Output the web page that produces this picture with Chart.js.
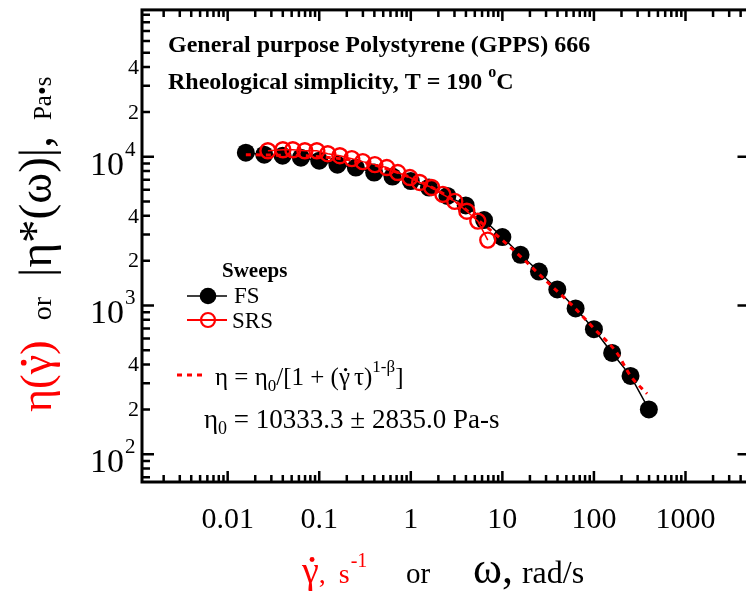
<!DOCTYPE html>
<html>
<head>
<meta charset="utf-8">
<script src="https://cdn.jsdelivr.net/npm/chart.js@4.4.1/dist/chart.umd.min.js"></script>
<style>
  html, body { margin: 0; padding: 0; background: #fff; overflow: hidden; }
  #wrap { width: 746px; height: 595px; overflow: hidden; position: relative; }
  canvas { display: block; }
</style>
</head>
<body>
<div id="wrap"><canvas id="chart" width="760" height="595"></canvas></div>
<script>
// frequency sweep (FS): omega, rad/s and |eta*|, Pa.s
var fsRate = [0.0158, 0.0251, 0.0398, 0.0631, 0.1, 0.158, 0.251, 0.398, 0.631, 1,
              1.58, 2.51, 3.98, 6.31, 10, 15.8, 25.1, 39.8, 63.1, 100, 158, 251, 398];
var fsVisc = [10630, 10310, 10150, 9850, 9400, 8840, 8450, 7820, 7350, 6850,
              6200, 5450, 4700, 3750, 2880, 2190, 1690, 1280, 955, 692, 479, 336, 200];

// steady rate sweep (SRS): shear rate, 1/s and eta, Pa.s
var srsRate = [0.0275, 0.0401, 0.0515, 0.0697, 0.0942, 0.124, 0.168, 0.227, 0.299, 0.405,
               0.547, 0.721, 0.976, 1.25, 1.69, 2.24, 3.02, 4.09, 5.39, 6.93];
var srsVisc = [10960, 11130, 11130, 10960, 10960, 10470, 10150, 9700, 9260, 8840,
               8450, 7820, 7240, 6710, 6210, 5580, 5010, 4300, 3690, 2750];

// fitted curve
var fitRate = [0.0158, 0.0316, 0.1, 0.316, 1, 1.78, 3.16, 5.62, 10, 17.8, 31.6, 56.2, 100, 178, 251, 380];
var fitVisc = [10300, 10250, 10000, 9120, 7240, 6120, 4940, 3690, 2750, 1990, 1420, 1020, 700, 480, 336, 255];

// axis ticks
var xTicks = [0.01, 0.1, 1, 10, 100, 1000];
var xTickLabels = ['0.01', '0.1', '1', '10', '100', '1000'];
var yTicks = [100, 1000, 10000];
var yTickExp = ['2', '3', '4'];
var yMinorLabelTicks = [200, 400, 2000, 4000, 20000, 40000];
var yMinorLabels = ['2', '4', '2', '4', '2', '4'];

var SERIF = "'Liberation Serif', 'Times New Roman', serif";
var RED = '#ff0000';

function pts(xs, ys) {
    return xs.map(function (x, i) { return { x: x, y: ys[i] }; });
}

//draws a row of text pieces, returns the end x
function rich(ctx, x, y, pieces) {
    pieces.forEach(function (p) {
        ctx.font = (p.bold ? 'bold ' : '') + p.size + 'px ' + SERIF;
        ctx.fillStyle = p.color || '#000';
        ctx.textAlign = 'left';
        ctx.textBaseline = 'alphabetic';
        ctx.fillText(p.t, x, y + (p.dy || 0));
        var w = ctx.measureText(p.t).width;
        if (p.dot) {
            ctx.beginPath();
            ctx.arc(x + w * 0.6, y + (p.dy || 0) - p.size * 0.62, p.size * 0.065, 0, Math.PI * 2);
            ctx.fill();
        }
        x += w + (p.gap || 0);
    });
    return x;
}

var decor = {
    id: 'decor',
    afterDraw: function (chart) {
        var ctx = chart.ctx;
        var xs = chart.scales.x, ys = chart.scales.y;
        var a = chart.chartArea;
        ctx.save();

        //frame
        ctx.strokeStyle = '#000';
        ctx.lineWidth = 3;
        ctx.strokeRect(a.left, a.top, a.right - a.left, a.bottom - a.top);

        //minor + major ticks, inward
        ctx.lineWidth = 2.5;
        ctx.beginPath();
        for (var d = -3; d <= 4; d++) {
            for (var k = 1; k <= 9; k++) {
                var v = k * Math.pow(10, d);
                var len = k === 1 ? 11 : 7;
                if (v >= xs.min && v <= xs.max) {
                    var px = xs.getPixelForValue(v);
                    ctx.moveTo(px, a.bottom); ctx.lineTo(px, a.bottom - len);
                    ctx.moveTo(px, a.top); ctx.lineTo(px, a.top + len);
                }
                if (v >= ys.min && v <= ys.max) {
                    var py = ys.getPixelForValue(v);
                    ctx.moveTo(a.left, py); ctx.lineTo(a.left + len + 1, py);
                    if (k === 1) { ctx.moveTo(a.right, py); ctx.lineTo(a.right - 12, py); }
                }
            }
        }
        ctx.stroke();

        //x tick labels
        ctx.fillStyle = '#000';
        ctx.font = '30px ' + SERIF;
        ctx.textAlign = 'center';
        ctx.textBaseline = 'alphabetic';
        xTicks.forEach(function (v, i) {
            ctx.fillText(xTickLabels[i], xs.getPixelForValue(v), 528);
        });

        //y tick labels
        yTicks.forEach(function (v, i) {
            var py = ys.getPixelForValue(v);
            ctx.font = '34px ' + SERIF;
            ctx.textAlign = 'right';
            ctx.fillText('10', 124, py + 18);
            ctx.font = '21px ' + SERIF;
            ctx.textAlign = 'left';
            ctx.fillText(yTickExp[i], 125, py - 1);
        });
        ctx.font = '22px ' + SERIF;
        ctx.textAlign = 'right';
        ctx.textBaseline = 'middle';
        yMinorLabelTicks.forEach(function (v, i) {
            ctx.fillText(yMinorLabels[i], 139, ys.getPixelForValue(v) + 1);
        });

        //titles inside plot
        rich(ctx, 168, 52, [{ t: 'General purpose Polystyrene (GPPS) 666', size: 24, bold: true }]);
        var e = rich(ctx, 168, 89, [{ t: 'Rheological simplicity, T = 190 ', size: 24, bold: true }]);
        e = rich(ctx, e, 89, [{ t: 'o', size: 16, bold: true, dy: -12 }]);
        rich(ctx, e, 89, [{ t: 'C', size: 24, bold: true }]);

        //legend
        rich(ctx, 222, 277, [{ t: 'Sweeps', size: 21, bold: true }]);
        ctx.lineWidth = 1.5;
        ctx.strokeStyle = '#000';
        ctx.beginPath(); ctx.moveTo(187, 296); ctx.lineTo(227, 296); ctx.stroke();
        ctx.fillStyle = '#000';
        ctx.beginPath(); ctx.arc(208, 296, 8.3, 0, Math.PI * 2); ctx.fill();
        rich(ctx, 234, 303, [{ t: 'FS', size: 23 }]);
        ctx.strokeStyle = RED;
        ctx.lineWidth = 2.2;
        ctx.beginPath(); ctx.moveTo(187, 320); ctx.lineTo(227, 320); ctx.stroke();
        ctx.beginPath(); ctx.arc(208, 320, 7, 0, Math.PI * 2); ctx.stroke();
        rich(ctx, 232, 328, [{ t: 'SRS', size: 23 }]);

        //fit legend
        ctx.lineWidth = 3;
        ctx.setLineDash([5, 5]);
        ctx.beginPath(); ctx.moveTo(177, 375); ctx.lineTo(205, 375); ctx.stroke();
        ctx.setLineDash([]);
        e = rich(ctx, 215, 385, [{ t: 'η = η', size: 25 }, { t: '0', size: 17, dy: 6 },
            { t: '/[1 + (', size: 25 }, { t: 'γ', size: 25, dot: true, gap: 4 }, { t: 'τ)', size: 25 }]);
        e = rich(ctx, e, 385, [{ t: '1-β', size: 17, dy: -13 }]);
        rich(ctx, e, 385, [{ t: ']', size: 25 }]);
        rich(ctx, 204, 428, [{ t: 'η', size: 27 }, { t: '0', size: 18, dy: 6 },
            { t: ' = 10333.3 ± 2835.0 Pa-s', size: 27 }]);

        //x axis title
        e = rich(ctx, 302, 583, [{ t: 'γ', size: 38, color: RED, dot: true }, { t: ', ', size: 28, color: RED, gap: 6 },
            { t: 's', size: 28, color: RED }]);
        rich(ctx, e + 1, 583, [{ t: '-1', size: 20, color: RED, dy: -16 }]);
        rich(ctx, 406, 583, [{ t: 'or', size: 29 }]);
        rich(ctx, 473, 583, [{ t: 'ω,', size: 44, gap: 9 }, { t: 'rad/s', size: 32 }]);

        //y axis title, rotated
        ctx.save();
        ctx.translate(51, 412);
        ctx.rotate(-Math.PI / 2);
        e = rich(ctx, 0, 0, [{ t: 'η(', size: 44, color: RED }, { t: 'γ', size: 44, color: RED, dot: true },
            { t: ')', size: 44, color: RED, gap: 20 }]);
        e = rich(ctx, e, 0, [{ t: 'or', size: 28, gap: 20 }]);
        e = rich(ctx, e, 0, [{ t: '|η*(ω)|,', size: 47, gap: 16 }]);
        rich(ctx, e, 0, [{ t: 'Pa•s', size: 25 }]);
        ctx.restore();

        ctx.restore();
    }
};

var ctx = document.getElementById('chart').getContext('2d');
new Chart(ctx, {
    type: 'scatter',
    data: {
        datasets: [
            {
                label: 'SRS',
                data: pts(srsRate, srsVisc),
                showLine: true,
                borderColor: RED,
                borderWidth: 1.5,
                backgroundColor: 'rgba(0,0,0,0)',
                pointBorderColor: RED,
                pointBorderWidth: 2.4,
                pointRadius: 7.5
            },
            {
                label: 'fit',
                data: pts(fitRate, fitVisc),
                showLine: true,
                borderColor: RED,
                borderWidth: 3,
                borderDash: [5, 5],
                cubicInterpolationMode: 'monotone',
                pointRadius: 0
            },
            {
                label: 'FS',
                data: pts(fsRate, fsVisc),
                showLine: true,
                borderColor: '#000',
                borderWidth: 1.5,
                backgroundColor: '#000',
                pointBackgroundColor: '#000',
                pointBorderWidth: 0,
                pointRadius: 9
            }
        ]
    },
    options: {
        responsive: false,
        animation: false,
        devicePixelRatio: 1,
        layout: { padding: { left: 142, right: 10.5, top: 6, bottom: 113 } },
        plugins: { legend: { display: false }, tooltip: { enabled: false } },
        scales: {
            x: { type: 'logarithmic', min: 0.00116, max: 5000, display: false },
            y: { type: 'logarithmic', min: 65, max: 97000, display: false }
        }
    },
    plugins: [decor]
});
</script>
</body>
</html>
